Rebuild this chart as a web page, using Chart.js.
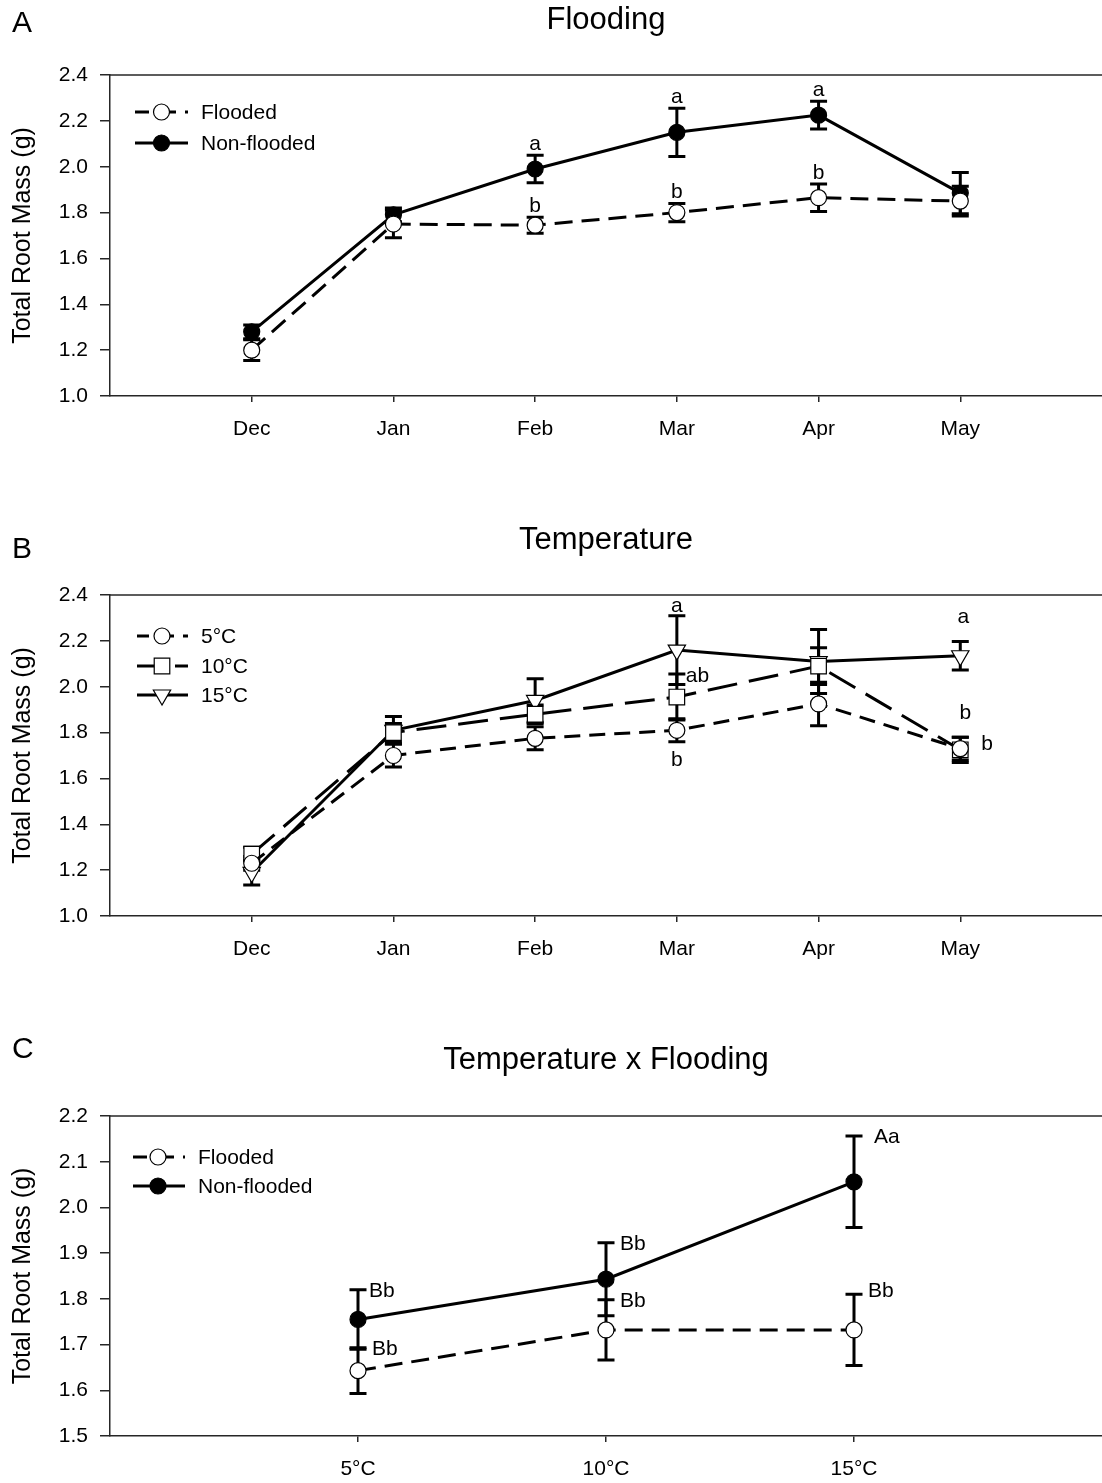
<!DOCTYPE html>
<html>
<head>
<meta charset="utf-8">
<title>Total Root Mass</title>
<script src="https://cdn.jsdelivr.net/npm/chart.js@4.4.1/dist/chart.umd.min.js"></script>
<style>
  html, body { margin: 0; padding: 0; background: #fff; }
  #wrap { position: relative; width: 1102px; height: 1483px; overflow: hidden; }
  canvas { position: absolute; left: 0; }
</style>
</head>
<body>
<div id="wrap">
  <canvas id="chartA" width="1102" height="500" style="top:0px"></canvas>
  <canvas id="chartB" width="1102" height="520" style="top:500px"></canvas>
  <canvas id="chartC" width="1102" height="463" style="top:1020px"></canvas>
</div>
<script>
// ---- Panel A: flooding effect by month ----
const months = ['Dec', 'Jan', 'Feb', 'Mar', 'Apr', 'May'];
const floodedMean     = [1.20, 1.75, 1.745, 1.80, 1.865, 1.85];
const floodedErr      = [0.045, 0.06, 0.035, 0.04, 0.06, 0.065];
const nonFloodedMean  = [1.28, 1.79, 1.99, 2.15, 2.225, 1.885];
const nonFloodedErr   = [0.03, 0.03, 0.06, 0.105, 0.06, 0.09];
const floodedLetters    = ['', '', 'b', 'b', 'b', ''];
const nonFloodedLetters = ['', '', 'a', 'a', 'a', ''];

// ---- Panel B: temperature effect by month ----
const temp5Mean  = [1.23, 1.70, 1.775, 1.81, 1.925, 1.73];
const temp5Err   = [0.03, 0.05, 0.05, 0.05, 0.095, 0.05];
const temp10Mean = [1.27, 1.80, 1.88, 1.955, 2.09, 1.725];
const temp10Err  = [0.03, 0.04, 0.04, 0.10, 0.08, 0.055];
const temp15Mean = [1.19, 1.81, 1.94, 2.16, 2.11, 2.135];
const temp15Err  = [0.055, 0.06, 0.095, 0.15, 0.14, 0.062];
const temp5Letters  = ['', '', '', 'b', '', 'b'];
const temp10Letters = ['', '', '', 'ab', '', 'b'];
const temp15Letters = ['', '', '', 'a', '', 'a'];

// ---- Panel C: temperature x flooding ----
const temps = ['5°C', '10°C', '15°C'];
const floodedTempMean    = [1.643, 1.732, 1.732];
const floodedTempErr     = [0.05, 0.066, 0.078];
const nonFloodedTempMean = [1.755, 1.843, 2.056];
const nonFloodedTempErr  = [0.065, 0.08, 0.10];
const floodedTempLetters    = ['Bb', 'Bb', 'Bb'];
const nonFloodedTempLetters = ['Bb', 'Bb', 'Aa'];

// ---- axis ticks ----
const yTicksAB = { min: 1.0, max: 2.4, step: 0.2 };
const yTicksC  = { min: 1.5, max: 2.2, step: 0.1 };

const FONT = '"Liberation Sans", Arial, Helvetica, sans-serif';
const INK = '#000';
const AXIS = '#262626';

// Vertical mean ± error bars, drawn under the lines and markers
const errorBarPlugin = {
  id: 'errorBars',
  beforeDatasetsDraw(chart) {
    const { ctx, scales: { x, y } } = chart;
    ctx.save();
    ctx.strokeStyle = INK;
    ctx.lineWidth = 3;
    ctx.setLineDash([]);
    chart.data.datasets.forEach(ds => {
      if (!ds.errors) return;
      ds.data.forEach((pt, i) => {
        const e = ds.errors[i];
        const px = x.getPixelForValue(pt.x);
        const yt = y.getPixelForValue(pt.y + e);
        const yb = y.getPixelForValue(pt.y - e);
        ctx.beginPath();
        ctx.moveTo(px, yt); ctx.lineTo(px, yb);
        ctx.moveTo(px - 8.5, yt); ctx.lineTo(px + 8.5, yt);
        ctx.moveTo(px - 8.5, yb); ctx.lineTo(px + 8.5, yb);
        ctx.stroke();
      });
    });
    ctx.restore();
  }
};

// Significance letters placed relative to each point's error bar
const letterPlugin = {
  id: 'sigLetters',
  afterDatasetsDraw(chart, args, opts) {
    const { ctx, scales: { x, y } } = chart;
    ctx.save();
    ctx.font = opts.size + 'px ' + FONT;
    ctx.fillStyle = INK;
    ctx.textBaseline = 'alphabetic';
    chart.data.datasets.forEach(ds => {
      if (!ds.letters) return;
      ds.letters.forEach((t, i) => {
        if (!t) return;
        const st = Object.assign({}, opts.defaults, (ds.letterPlacement || {})[i]);
        const pt = ds.data[i];
        const e = ds.errors[i];
        const ref = st.anchor === 'top' ? pt.y + e : st.anchor === 'bottom' ? pt.y - e : pt.y;
        ctx.textAlign = st.align;
        ctx.fillText(t, x.getPixelForValue(pt.x) + st.dx, y.getPixelForValue(ref) + st.dy);
      });
    });
    ctx.restore();
  }
};

// Panel letter, centered panel title and the top frame line
const panelPlugin = {
  id: 'panelText',
  afterDraw(chart, args, opts) {
    const { ctx, chartArea } = chart;
    ctx.save();
    ctx.strokeStyle = AXIS;
    ctx.lineWidth = 1.5;
    ctx.beginPath();
    ctx.moveTo(chartArea.left, chartArea.top);
    ctx.lineTo(chartArea.right, chartArea.top);
    ctx.stroke();
    ctx.fillStyle = INK;
    ctx.textBaseline = 'middle';
    ctx.font = opts.letterSize + 'px ' + FONT;
    ctx.textAlign = 'left';
    ctx.fillText(opts.letter, opts.letterX, opts.letterY);
    ctx.font = opts.titleSize + 'px ' + FONT;
    ctx.textAlign = 'center';
    ctx.fillText(opts.title, (chartArea.left + chartArea.right) / 2, opts.titleY);
    ctx.restore();
  }
};

// Legend with line sample and marker for each series, inside the plot
const lineLegendPlugin = {
  id: 'lineLegend',
  afterDraw(chart, args, opts) {
    const { ctx } = chart;
    ctx.save();
    chart.data.datasets.forEach((ds, k) => {
      const yy = opts.rows[k];
      ctx.strokeStyle = INK;
      ctx.lineWidth = 3;
      ctx.setLineDash(ds.borderDash || []);
      ctx.lineDashOffset = opts.dashOffset || 0;
      ctx.beginPath();
      ctx.moveTo(opts.x0, yy);
      ctx.lineTo(opts.x1, yy);
      ctx.stroke();
      ctx.setLineDash([]);
      ctx.fillStyle = ds.pointBackgroundColor;
      ctx.strokeStyle = INK;
      ctx.lineWidth = ds.pointBorderWidth;
      Chart.helpers.drawPoint(ctx, {
        pointStyle: ds.pointStyle,
        rotation: ds.pointRotation || 0,
        radius: ds.pointRadius,
        borderWidth: ds.pointBorderWidth
      }, opts.mx, yy);
      ctx.fillStyle = INK;
      ctx.font = opts.size + 'px ' + FONT;
      ctx.textAlign = 'left';
      ctx.textBaseline = 'middle';
      ctx.fillText(ds.label, opts.tx, yy + 1);
    });
    ctx.restore();
  }
};

function series(label, means, errs, letters, look) {
  return Object.assign({
    label: label,
    data: means.map((v, i) => ({ x: i, y: v })),
    errors: errs,
    letters: letters,
    borderColor: INK,
    borderWidth: 3,
    tension: 0,
    fill: false,
    pointBorderColor: INK,
    pointBorderWidth: 1.2,
    pointRadius: 8,
    pointHoverRadius: 8,
    pointStyle: 'circle'
  }, look);
}

function makeChart(id, cfg) {
  const canvas = document.getElementById(id);
  const H = canvas.height;
  return new Chart(canvas, {
    type: 'line',
    data: { datasets: cfg.datasets },
    options: {
      responsive: false,
      animation: false,
      devicePixelRatio: 1,
      events: [],
      layout: { autoPadding: false, padding: { top: cfg.areaTop, left: 0, right: 0, bottom: 0 } },
      plugins: {
        legend: { display: false },
        tooltip: { enabled: false },
        panelText: cfg.panel,
        lineLegend: cfg.legend,
        sigLetters: cfg.letters
      },
      scales: {
        x: {
          type: 'linear',
          min: -1,
          max: cfg.cats.length,
          afterBuildTicks: s => { s.ticks = cfg.cats.map((c, i) => ({ value: i })); },
          afterFit: s => {
            s.height = H - cfg.areaBottom;
            s.paddingLeft = 0;
            s.paddingRight = 0;
          },
          ticks: {
            autoSkip: false,
            maxRotation: 0,
            padding: 15,
            color: INK,
            font: { family: FONT, size: 21 },
            callback: v => cfg.cats[v]
          },
          grid: { drawOnChartArea: false, drawTicks: true, tickLength: 6, color: AXIS, lineWidth: 1.5 },
          border: { display: true, color: AXIS, width: 1.5 }
        },
        y: {
          min: cfg.yt.min,
          max: cfg.yt.max,
          afterFit: s => { s.width = 110; },
          ticks: {
            stepSize: cfg.yt.step,
            padding: 12,
            color: INK,
            font: { family: FONT, size: 21 },
            callback: v => Number(v).toFixed(1)
          },
          grid: { drawOnChartArea: false, drawTicks: true, tickLength: 10, color: AXIS, lineWidth: 1.5 },
          border: { display: true, color: AXIS, width: 1.5 },
          title: {
            display: true,
            text: 'Total Root Mass (g)',
            color: INK,
            font: { family: FONT, size: 25 },
            padding: { top: 8, bottom: 0 }
          }
        }
      }
    },
    plugins: [errorBarPlugin, letterPlugin, panelPlugin, lineLegendPlugin]
  });
}

const openCircle  = { pointBackgroundColor: '#fff' };
const solidCircle = { pointBackgroundColor: INK };

// A
makeChart('chartA', {
  cats: months,
  yt: yTicksAB,
  areaTop: 75,
  areaBottom: 396,
  datasets: [
    series('Flooded', floodedMean, floodedErr, floodedLetters,
      Object.assign({ borderDash: [18, 9] }, openCircle)),
    series('Non-flooded', nonFloodedMean, nonFloodedErr, nonFloodedLetters, solidCircle)
  ],
  panel: { letter: 'A', letterX: 12, letterY: 24, letterSize: 30, title: 'Flooding', titleY: 20, titleSize: 31 },
  legend: { rows: [112, 143], x0: 135, x1: 188, mx: 161.5, tx: 201, size: 21, dashOffset: 4 },
  letters: { size: 21, defaults: { anchor: 'top', dx: 0, dy: -5, align: 'center' } }
});

// B
makeChart('chartB', {
  cats: months,
  yt: yTicksAB,
  areaTop: 95,
  areaBottom: 416,
  datasets: [
    series('5°C', temp5Mean, temp5Err, temp5Letters,
      Object.assign({ borderDash: [16, 9],
        letterPlacement: { 3: { anchor: 'bottom', dy: 24 }, 5: { anchor: 'mean', dx: 21, dy: 1, align: 'left' } } }, openCircle)),
    series('10°C', temp10Mean, temp10Err, temp10Letters,
      { borderDash: [30, 12], pointStyle: 'rect', pointRadius: 11, pointHoverRadius: 11, pointBackgroundColor: '#fff',
        letterPlacement: { 3: { dx: 9, dy: 8, align: 'left' }, 5: { dx: 5, dy: -18 } } }),
    series('15°C', temp15Mean, temp15Err, temp15Letters,
      { pointStyle: 'triangle', rotation: 180, pointRotation: 180, pointRadius: 10, pointHoverRadius: 10, pointBackgroundColor: '#fff',
        letterPlacement: { 3: { dy: -4 }, 5: { dx: 3, dy: -19 } } })
  ],
  panel: { letter: 'B', letterX: 12, letterY: 50, letterSize: 30, title: 'Temperature', titleY: 40, titleSize: 31 },
  legend: { rows: [136, 166, 195], x0: 137, x1: 188, mx: 162, tx: 201, size: 21, dashOffset: 4 },
  letters: { size: 21, defaults: { anchor: 'top', dx: 0, dy: -5, align: 'center' } }
});

// C
makeChart('chartC', {
  cats: temps,
  yt: yTicksC,
  areaTop: 96,
  areaBottom: 416,
  datasets: [
    series('Flooded', floodedTempMean, floodedTempErr, floodedTempLetters,
      Object.assign({ borderDash: [18, 9], letterPlacement: { 2: { dy: 3 } } }, openCircle)),
    series('Non-flooded', nonFloodedTempMean, nonFloodedTempErr, nonFloodedTempLetters,
      Object.assign({ letterPlacement: { 0: { dx: 11 }, 2: { dx: 20 } } }, solidCircle))
  ],
  panel: { letter: 'C', letterX: 12, letterY: 30, letterSize: 30, title: 'Temperature x Flooding', titleY: 40, titleSize: 31 },
  legend: { rows: [137, 166], x0: 133, x1: 185, mx: 158, tx: 198, size: 21, dashOffset: 4 },
  letters: { size: 21, defaults: { anchor: 'top', dx: 14, dy: 7, align: 'left' } }
});
</script>
</body>
</html>
